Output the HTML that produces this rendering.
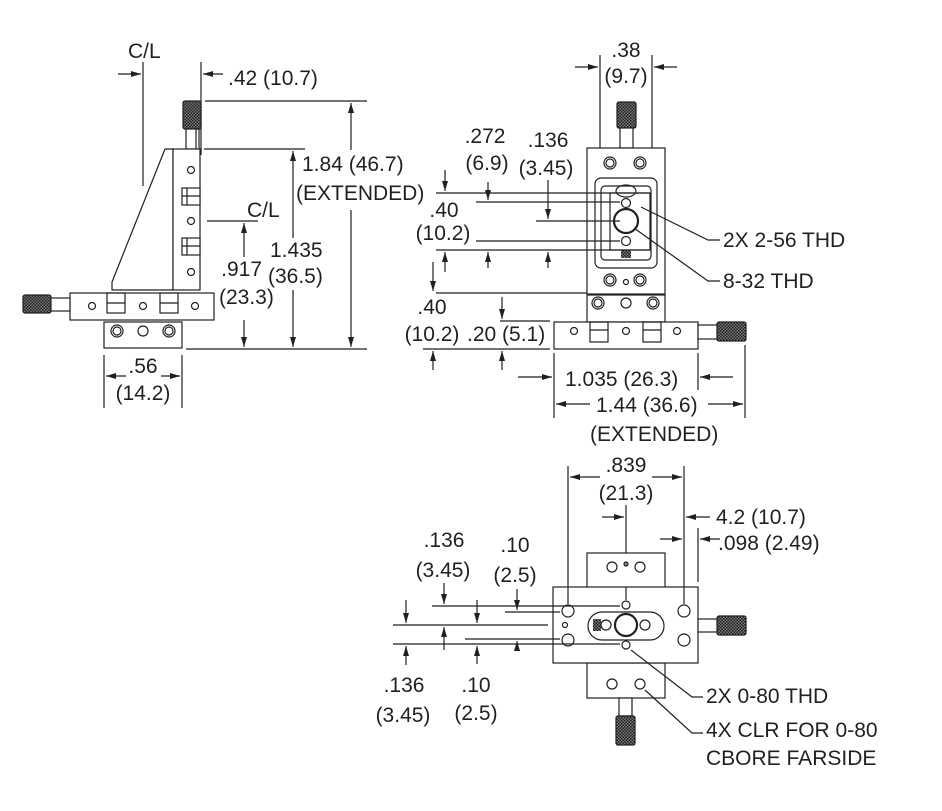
<!DOCTYPE html>
<html><head><meta charset="utf-8"><style>
html,body{margin:0;padding:0;background:#fff;}
svg{display:block;}
text{font-family:"Liberation Sans Narrow","Liberation Sans",sans-serif;font-size:21px;fill:#231f20;}
</style></head><body>
<svg width="942" height="811" viewBox="0 0 942 811" xmlns="http://www.w3.org/2000/svg">
<defs>
<pattern id="kn" width="3" height="3" patternUnits="userSpaceOnUse">
<rect width="3" height="3" fill="#777"/><rect width="1.5" height="1.5" fill="#222"/><rect x="1.5" y="1.5" width="1.5" height="1.5" fill="#222"/>
</pattern>
<marker id="a" viewBox="0 0 10 6" refX="10" refY="3" markerWidth="10" markerHeight="6" orient="auto" markerUnits="userSpaceOnUse"><path d="M0,0 L10,3 L0,6 z" fill="#231f20"/></marker>
</defs>
<g stroke="#231f20" stroke-width="1.2" fill="none">
<!-- ===== LEFT VIEW ===== -->
<line x1="143" y1="62" x2="143" y2="186"/>
<line x1="118" y1="74" x2="141" y2="74" marker-end="url(#a)"/>
<line x1="201" y1="62" x2="201" y2="155"/>
<line x1="223" y1="74" x2="203" y2="74" marker-end="url(#a)"/>
<rect x="183" y="101" width="18" height="28" rx="2" fill="url(#kn)"/>
<rect x="186" y="129" width="13" height="20" fill="#fff"/>
<line x1="196" y1="129" x2="196" y2="149"/>
<polygon points="165,149 173,149 173,290 112,290 112,282" fill="#fff"/>
<rect x="173" y="149" width="27" height="141" fill="#fff"/>
<circle cx="191" cy="170" r="3.5"/><circle cx="191" cy="221" r="3.5"/><circle cx="191" cy="272" r="3.5"/>
<rect x="182" y="188" width="18" height="17" fill="#fff"/><line x1="187" y1="188" x2="187" y2="205"/><line x1="182" y1="196" x2="200" y2="196"/>
<rect x="182" y="238" width="18" height="17" fill="#fff"/><line x1="187" y1="238" x2="187" y2="255"/><line x1="182" y1="246" x2="200" y2="246"/>
<line x1="205" y1="101" x2="367" y2="101"/>
<line x1="204" y1="149" x2="305" y2="149"/>
<line x1="207" y1="221" x2="258" y2="221"/>
<rect x="70" y="293" width="144" height="27" fill="#fff"/>
<rect x="23" y="295" width="28" height="18" rx="2" fill="url(#kn)"/>
<rect x="51" y="298" width="19" height="13" fill="#fff"/>
<circle cx="92" cy="306" r="3.5"/><circle cx="143" cy="306" r="3.5"/><circle cx="195" cy="306" r="3.5"/>
<rect x="107" y="293" width="18" height="20"/><line x1="107" y1="303" x2="125" y2="303"/>
<rect x="160" y="293" width="18" height="20"/><line x1="160" y1="303" x2="178" y2="303"/>
<rect x="104" y="322" width="78" height="26" fill="#fff"/>
<circle cx="117" cy="331" r="6"/><circle cx="117" cy="331" r="4"/>
<circle cx="143" cy="331" r="5"/>
<circle cx="169" cy="331" r="6"/><circle cx="169" cy="331" r="4"/>
<line x1="186" y1="349" x2="367" y2="349"/>
<line x1="244" y1="300" x2="244" y2="223" marker-end="url(#a)"/>
<line x1="244" y1="320" x2="244" y2="347" marker-end="url(#a)"/>
<line x1="293" y1="240" x2="293" y2="151" marker-end="url(#a)"/>
<line x1="293" y1="290" x2="293" y2="347" marker-end="url(#a)"/>
<line x1="351" y1="150" x2="351" y2="103" marker-end="url(#a)"/>
<line x1="351" y1="210" x2="351" y2="347" marker-end="url(#a)"/>
<line x1="104" y1="355" x2="104" y2="408"/><line x1="182" y1="355" x2="182" y2="408"/>
<line x1="126" y1="376" x2="106" y2="376" marker-end="url(#a)"/>
<line x1="161" y1="376" x2="180" y2="376" marker-end="url(#a)"/>

<!-- ===== MIDDLE VIEW ===== -->
<line x1="600" y1="55" x2="600" y2="250"/><line x1="652" y1="55" x2="652" y2="250"/>
<line x1="575" y1="67" x2="598" y2="67" marker-end="url(#a)"/>
<line x1="677" y1="67" x2="654" y2="67" marker-end="url(#a)"/>
<rect x="617" y="102" width="19" height="26" rx="2" fill="url(#kn)"/>
<rect x="620" y="128" width="13" height="20" fill="#fff"/>
<rect x="587" y="148" width="78" height="146" fill="#fff"/>
<circle cx="610" cy="163" r="6"/><circle cx="610" cy="163" r="4"/>
<circle cx="640" cy="163" r="6"/><circle cx="640" cy="163" r="4"/>
<circle cx="610" cy="280" r="6"/><circle cx="610" cy="280" r="4"/>
<circle cx="640" cy="280" r="6"/><circle cx="640" cy="280" r="4"/>
<circle cx="626" cy="282" r="2.5"/>
<rect x="595" y="178" width="62" height="90" rx="6" fill="#fff"/>
<rect x="601" y="186" width="50" height="74" rx="4"/>
<rect x="610" y="193" width="40" height="57" fill="#fff"/>
<ellipse cx="626" cy="191" rx="10" ry="6"/>
<circle cx="626" cy="221" r="12" stroke-width="2.2" fill="#fff"/>
<circle cx="626" cy="203" r="4.5" fill="#fff"/><circle cx="626" cy="241" r="4.5" fill="#fff"/>
<rect x="621" y="250" width="10" height="8" fill="url(#kn)" stroke="none"/>
<rect x="587" y="295" width="78" height="27" fill="#fff"/>
<circle cx="598" cy="303" r="6"/><circle cx="598" cy="303" r="4"/>
<circle cx="626" cy="303" r="5"/>
<circle cx="653" cy="303" r="6"/><circle cx="653" cy="303" r="4"/>
<rect x="554" y="322" width="144" height="27" fill="#fff"/>
<rect x="717" y="322" width="29" height="19" rx="2" fill="url(#kn)"/>
<rect x="698" y="325" width="19" height="14" fill="#fff"/>
<circle cx="574" cy="331" r="3.5"/><circle cx="626" cy="331" r="3.5"/><circle cx="677" cy="331" r="3.5"/>
<rect x="590" y="322" width="18" height="20"/><line x1="590" y1="330" x2="608" y2="330"/>
<rect x="643" y="322" width="18" height="20"/><line x1="643" y1="330" x2="661" y2="330"/>
<line x1="436" y1="193" x2="650" y2="193"/>
<line x1="476" y1="202" x2="620" y2="202"/>
<line x1="536" y1="221" x2="620" y2="221"/>
<line x1="476" y1="241" x2="620" y2="241"/>
<line x1="436" y1="250" x2="650" y2="250"/>
<line x1="445" y1="170" x2="445" y2="191" marker-end="url(#a)"/>
<line x1="445" y1="272" x2="445" y2="252" marker-end="url(#a)"/>
<line x1="488" y1="182" x2="488" y2="200" marker-end="url(#a)"/>
<line x1="488" y1="268" x2="488" y2="252" marker-end="url(#a)"/>
<line x1="548" y1="180" x2="548" y2="219" marker-end="url(#a)"/>
<line x1="548" y1="268" x2="548" y2="252" marker-end="url(#a)"/>
<line x1="436" y1="293" x2="587" y2="293"/>
<line x1="500" y1="321" x2="550" y2="321"/>
<line x1="423" y1="349" x2="550" y2="349"/>
<line x1="433" y1="262" x2="433" y2="291" marker-end="url(#a)"/>
<line x1="433" y1="370" x2="433" y2="351" marker-end="url(#a)"/>
<line x1="502" y1="297" x2="502" y2="319" marker-end="url(#a)"/>
<line x1="502" y1="370" x2="502" y2="351" marker-end="url(#a)"/>
<polyline points="641,207 708,240 720,240"/>
<polyline points="634,228 708,281 720,281"/>
<line x1="554" y1="353" x2="554" y2="418"/><line x1="698" y1="353" x2="698" y2="390"/><line x1="745" y1="345" x2="745" y2="418"/>
<line x1="518" y1="377" x2="552" y2="377" marker-end="url(#a)"/>
<line x1="733" y1="377" x2="700" y2="377" marker-end="url(#a)"/>
<line x1="590" y1="404" x2="556" y2="404" marker-end="url(#a)"/>
<line x1="708" y1="404" x2="743" y2="404" marker-end="url(#a)"/>

<!-- ===== BOTTOM VIEW ===== -->
<line x1="568" y1="466" x2="568" y2="608"/><line x1="684" y1="466" x2="684" y2="608"/>
<line x1="600" y1="477" x2="570" y2="477" marker-end="url(#a)"/>
<line x1="652" y1="477" x2="682" y2="477" marker-end="url(#a)"/>
<line x1="626" y1="505" x2="626" y2="600"/>
<line x1="602" y1="517" x2="624" y2="517" marker-end="url(#a)"/>
<line x1="710" y1="517" x2="686" y2="517" marker-end="url(#a)"/>
<line x1="660" y1="539" x2="682" y2="539" marker-end="url(#a)"/>
<line x1="698" y1="528" x2="698" y2="582"/>
<line x1="720" y1="539" x2="700" y2="539" marker-end="url(#a)"/>
<rect x="587" y="553" width="78" height="35" fill="#fff"/>
<circle cx="612" cy="567" r="5"/><circle cx="640" cy="567" r="5"/><circle cx="626" cy="564" r="2" fill="#888"/>
<rect x="587" y="663" width="78" height="35" fill="#fff"/>
<circle cx="612" cy="684" r="5"/><circle cx="640" cy="684" r="5"/>
<rect x="619" y="698" width="13" height="18" fill="#fff"/>
<rect x="616" y="716" width="19" height="29" rx="2" fill="url(#kn)"/>
<rect x="553" y="587" width="145" height="76" fill="#fff"/>
<line x1="568" y1="587" x2="568" y2="604"/><line x1="684" y1="587" x2="684" y2="604"/><line x1="626" y1="587" x2="626" y2="600"/>
<circle cx="568" cy="611" r="6"/><circle cx="684" cy="611" r="6"/><circle cx="568" cy="640" r="6"/><circle cx="684" cy="640" r="6"/>
<circle cx="565" cy="625" r="2.5"/>
<rect x="717" y="616" width="29" height="19" rx="2" fill="url(#kn)"/>
<rect x="698" y="619" width="19" height="13" fill="#fff"/>
<rect x="588" y="612" width="76" height="28" rx="14"/>
<rect x="593" y="619" width="8" height="12" fill="url(#kn)" stroke="none"/>
<circle cx="606" cy="625" r="5"/><circle cx="645" cy="625" r="5"/>
<circle cx="626" cy="625" r="11" stroke-width="2.2" fill="#fff"/>
<circle cx="626" cy="605" r="4"/><circle cx="626" cy="645" r="4"/>
<line x1="432" y1="606" x2="620" y2="606"/>
<line x1="505" y1="612" x2="560" y2="612"/>
<line x1="393" y1="625" x2="548" y2="625"/>
<line x1="465" y1="639" x2="560" y2="639"/>
<line x1="393" y1="644" x2="620" y2="644"/>
<line x1="406" y1="600" x2="406" y2="623" marker-end="url(#a)"/>
<line x1="406" y1="665" x2="406" y2="646" marker-end="url(#a)"/>
<line x1="444" y1="583" x2="444" y2="604" marker-end="url(#a)"/>
<line x1="444" y1="650" x2="444" y2="627" marker-end="url(#a)"/>
<line x1="477" y1="600" x2="477" y2="623" marker-end="url(#a)"/>
<line x1="477" y1="664" x2="477" y2="646" marker-end="url(#a)"/>
<line x1="517" y1="589" x2="517" y2="610" marker-end="url(#a)"/>
<line x1="517" y1="650" x2="517" y2="641" marker-end="url(#a)"/>
<polyline points="631,650 692,697 703,697"/>
<polyline points="645,690 692,733 703,733"/>
</g>
<g>
<text x="128" y="58">C/L</text>
<text x="228" y="85">.42 (10.7)</text>
<rect x="300" y="152" width="118" height="58" fill="#fff"/>
<text x="302" y="171">1.84 (46.7)</text>
<text x="296" y="200">(EXTENDED)</text>
<text x="247" y="217">C/L</text>
<rect x="268" y="238" width="56" height="52" fill="#fff"/>
<text x="270" y="257">1.435</text>
<text x="268" y="283">(36.5)</text>
<rect x="222" y="257" width="42" height="60" fill="#fff"/>
<text x="262" y="276" text-anchor="end">.917</text>
<text x="219" y="304">(23.3)</text>
<text x="143" y="373" text-anchor="middle">.56</text>
<text x="143" y="400" text-anchor="middle">(14.2)</text>

<text x="626" y="57" text-anchor="middle">.38</text>
<text x="626" y="83" text-anchor="middle">(9.7)</text>
<text x="485" y="143" text-anchor="middle">.272</text>
<text x="487" y="170" text-anchor="middle">(6.9)</text>
<text x="548" y="147" text-anchor="middle">.136</text>
<text x="546" y="175" text-anchor="middle">(3.45)</text>
<text x="444" y="217" text-anchor="middle">.40</text>
<text x="443" y="240" text-anchor="middle">(10.2)</text>
<text x="432" y="314" text-anchor="middle">.40</text>
<text x="432" y="341" text-anchor="middle">(10.2)</text>
<text x="467" y="341">.20 (5.1)</text>
<text x="723" y="247">2X 2-56 THD</text>
<text x="723" y="288">8-32 THD</text>
<text x="565" y="386">1.035 (26.3)</text>
<text x="596" y="412">1.44 (36.6)</text>
<text x="590" y="441">(EXTENDED)</text>

<text x="626" y="472" text-anchor="middle">.839</text>
<text x="626" y="500" text-anchor="middle">(21.3)</text>
<text x="716" y="524">4.2 (10.7)</text>
<text x="718" y="550">.098 (2.49)</text>
<text x="444" y="547" text-anchor="middle">.136</text>
<text x="443" y="577" text-anchor="middle">(3.45)</text>
<text x="515" y="552" text-anchor="middle">.10</text>
<text x="515" y="582" text-anchor="middle">(2.5)</text>
<text x="404" y="692" text-anchor="middle">.136</text>
<text x="403" y="722" text-anchor="middle">(3.45)</text>
<text x="476" y="692" text-anchor="middle">.10</text>
<text x="476" y="720" text-anchor="middle">(2.5)</text>
<text x="706" y="703">2X 0-80 THD</text>
<text x="706" y="737">4X CLR FOR 0-80</text>
<text x="706" y="765">CBORE FARSIDE</text>
</g>
</svg>
</body></html>
